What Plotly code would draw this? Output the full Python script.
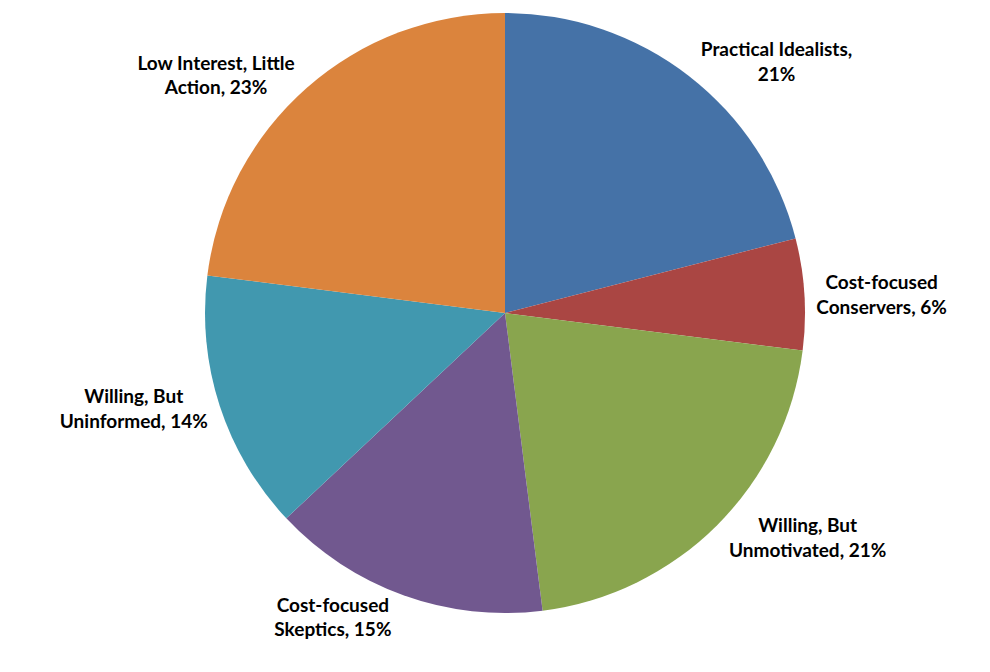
import plotly.graph_objects as go

labels = ["Practical Idealists", "Cost-focused<br>Conservers", "Willing, But<br>Unmotivated",
          "Cost-focused<br>Skeptics", "Willing, But<br>Uninformed", "Low Interest, Little<br>Action"]
values = [21, 6, 21, 15, 14, 23]
colors = ["#4572A7", "#AA4643", "#89A54E", "#71588F", "#4198AF", "#DB843D"]
templates = ["%{label},<br>%{percent:.0%}"] + ["%{label}, %{percent:.0%}"] * 5

W, H = 990, 672
cx, cy, r = 497, 305, 300

fig = go.Figure(go.Pie(
    labels=labels,
    values=values,
    sort=False,
    direction="clockwise",
    rotation=0,
    marker=dict(colors=colors, line=dict(width=0)),
    texttemplate=templates,
    textposition="outside",
    textfont=dict(family="Lato", size=19, color="#000000", weight="bold"),
    showlegend=False,
    hole=0,
    domain=dict(x=[(cx - r) / W, (cx + r) / W], y=[1 - (cy + r) / H, 1 - (cy - r) / H]),
))

fig.update_layout(
    width=W, height=H,
    margin=dict(l=0, r=0, t=0, b=0),
    paper_bgcolor="white",
    plot_bgcolor="white",
)

fig.write_html("out.html")
